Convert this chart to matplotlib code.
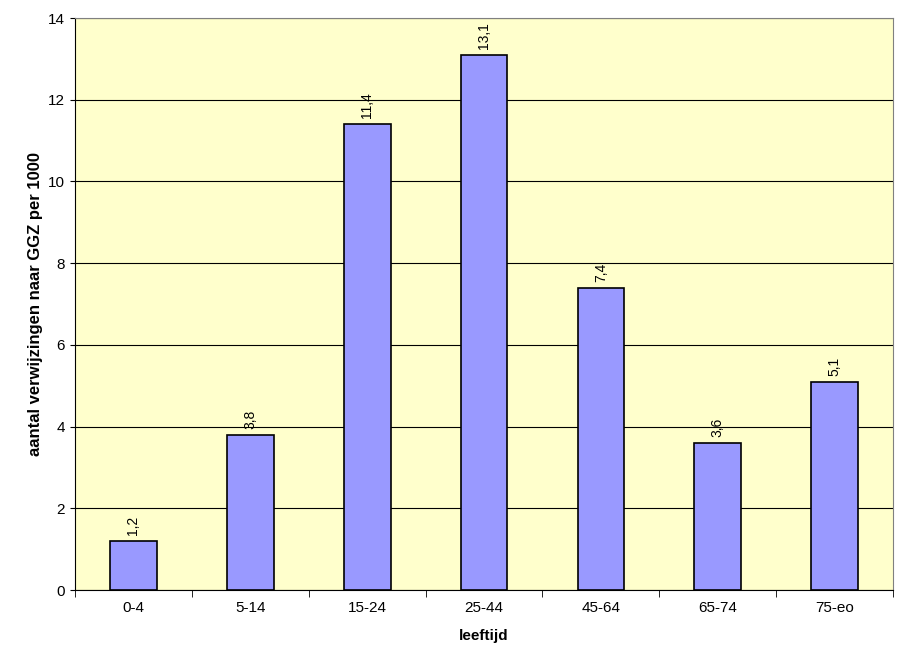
import numpy as np
import matplotlib.pyplot as plt

categories = ['0-4', '5-14', '15-24', '25-44', '45-64', '65-74', '75-eo']
values = [1.2, 3.8, 11.4, 13.1, 7.4, 3.6, 5.1]
labels = ['1,2', '3,8', '11,4', '13,1', '7,4', '3,6', '5,1']

fig = plt.figure(figsize=(9.03, 6.69), dpi=100)
ax = fig.add_axes([0.083, 0.118, 0.906, 0.855])
ax.set_facecolor('#FFFFCC')

x = np.arange(len(categories))
ax.bar(x, values, width=0.4, color='#9999FF', edgecolor='black', linewidth=1.2, zorder=3)
for xi, v, lab in zip(x, values, labels):
    ax.text(xi, v + 0.15, lab, rotation=90, ha='center', va='bottom', fontsize=10, family='Liberation Sans')

ax.set_xlim(-0.5, len(categories) - 0.5)
ax.set_ylim(0, 14)
ax.set_yticks(range(0, 15, 2))
ax.yaxis.grid(True, color='black', linewidth=0.8, zorder=0)
ax.set_xticks(x)
ax.set_xticklabels(categories, fontsize=11, family='Liberation Sans')
ax.set_xticks(np.arange(-0.5, len(categories)), minor=True)
ax.tick_params(axis='x', which='major', length=0, pad=8)
ax.tick_params(axis='x', which='minor', length=5)
for t in ax.get_yticklabels():
    t.set_family('Liberation Sans')
    t.set_fontsize(11)
for s in ['top', 'right']:
    ax.spines[s].set_color('#808080')
ax.set_xlabel('leeftijd', fontsize=11, fontweight='bold', family='Liberation Sans', labelpad=10)
ax.set_ylabel('aantal verwijzingen naar GGZ per 1000', fontsize=12, fontweight='bold', family='Liberation Sans')

fig.savefig('out.png')
